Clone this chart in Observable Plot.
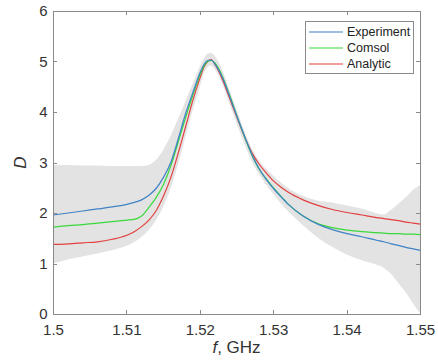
<!DOCTYPE html>
<html>
<head>
<meta charset="utf-8">
<script src="https://cdn.jsdelivr.net/npm/d3@7"></script>
<script src="https://cdn.jsdelivr.net/npm/@observablehq/plot@0.6"></script>
<style>
  html, body { margin: 0; padding: 0; background: #fff; }
</style>
</head>
<body>
<div id="chart"></div>
<script>
// Frequency grid (GHz)
const freq = [1.500,1.502,1.504,1.506,1.508,1.510,1.511,1.512,1.513,1.514,1.515,1.516,1.517,1.518,1.519,1.520,1.5205,1.521,1.5215,1.522,1.523,1.524,1.525,1.526,1.527,1.528,1.529,1.530,1.531,1.532,1.534,1.536,1.538,1.540,1.542,1.544,1.545,1.546,1.547,1.548,1.549,1.550];
// Experiment (blue)
const experiment = [1.97,2.01,2.05,2.09,2.13,2.18,2.22,2.27,2.36,2.50,2.72,3.02,3.48,3.98,4.40,4.80,4.95,5.03,5.04,4.96,4.70,4.32,3.92,3.54,3.18,2.89,2.67,2.49,2.33,2.18,1.95,1.79,1.68,1.60,1.54,1.47,1.44,1.40,1.37,1.33,1.30,1.27];
// Comsol (green)
const comsol = [1.73,1.76,1.78,1.81,1.84,1.87,1.885,1.95,2.12,2.32,2.58,2.95,3.42,3.90,4.35,4.76,4.92,5.01,5.03,4.98,4.72,4.34,3.93,3.53,3.17,2.88,2.68,2.50,2.34,2.18,1.95,1.80,1.72,1.67,1.64,1.62,1.61,1.60,1.60,1.59,1.59,1.58];
// Analytic (red)
const analytic = [1.39,1.40,1.42,1.44,1.49,1.57,1.64,1.74,1.87,2.06,2.35,2.72,3.20,3.72,4.25,4.70,4.90,5.01,5.05,4.95,4.66,4.28,3.90,3.53,3.21,2.98,2.80,2.64,2.52,2.42,2.27,2.16,2.08,2.02,1.97,1.92,1.90,1.88,1.86,1.83,1.81,1.79];
// Uncertainty band (gray)
const bandHigh = [2.95,2.95,2.94,2.94,2.93,2.93,2.93,2.93,2.95,3.05,3.25,3.52,3.85,4.20,4.55,4.90,5.05,5.15,5.17,5.12,4.85,4.45,4.05,3.65,3.30,3.05,2.88,2.74,2.61,2.50,2.34,2.25,2.21,2.15,2.09,2.00,1.97,2.06,2.18,2.30,2.45,2.55];
const bandLow = [1.00,1.08,1.14,1.20,1.26,1.35,1.42,1.52,1.66,1.85,2.12,2.48,2.95,3.48,4.02,4.50,4.75,4.88,4.92,4.85,4.58,4.18,3.78,3.40,3.05,2.78,2.57,2.38,2.20,2.04,1.76,1.52,1.33,1.18,1.07,0.98,0.92,0.80,0.62,0.44,0.22,0.02];

const xTicks = [1.5,1.51,1.52,1.53,1.54,1.55];
const yTicks = [0,1,2,3,4,5,6];
const seriesNames = ["Experiment","Comsol","Analytic"];
const seriesColors = ["#3f82c6","#3ad83a","#e2403f"];

const rows = freq.map((f,i) => ({f, exp: experiment[i], com: comsol[i], ana: analytic[i], hi: bandHigh[i], lo: bandLow[i]}));

const axisColor = "#8a8a8a";
const textColor = "#333";

const plot = Plot.plot({
  width: 438,
  height: 364,
  marginLeft: 53,
  marginRight: 18,
  marginTop: 11,
  marginBottom: 50,
  style: {fontFamily: "'Liberation Sans', Arial, sans-serif", fontSize: "15px", color: textColor, background: "#fff", overflow: "visible"},
  x: {domain: [1.5, 1.55], ticks: xTicks, tickFormat: d => String(d)},
  y: {domain: [0, 6], ticks: yTicks, tickFormat: d => String(d)},
  marks: [
    Plot.areaY(rows, {x: "f", y1: "lo", y2: "hi", fill: "#e3e3e3", curve: "monotone-x"}),
    Plot.line(rows, {x: "f", y: "ana", stroke: seriesColors[2], strokeWidth: 1.2, curve: "monotone-x"}),
    Plot.line(rows, {x: "f", y: "com", stroke: seriesColors[1], strokeWidth: 1.2, curve: "monotone-x"}),
    Plot.line(rows, {x: "f", y: "exp", stroke: seriesColors[0], strokeWidth: 1.2, curve: "monotone-x"}),
    Plot.frame({stroke: axisColor, strokeWidth: 1}),
    Plot.axisX({ticks: xTicks, tickSize: 0, tickPadding: 10, label: null, tickFormat: d => String(d)}),
    Plot.axisY({ticks: yTicks, tickSize: 0, tickPadding: 6, label: null, tickFormat: d => String(d)})
  ]
});

const svg = d3.select(plot);
const xs = plot.scale("x"), ys = plot.scale("y");
const [x0, x1] = xs.range, [y0, y1] = ys.range; // y0 bottom, y1 top
const tl = 4;
const g = svg.append("g").attr("stroke", axisColor).attr("stroke-width", 1);
xTicks.forEach(t => {
  const px = Math.round(xs.apply(t)) + 0.5;
  g.append("line").attr("x1", px).attr("x2", px).attr("y1", y0).attr("y2", y0 - tl);
  g.append("line").attr("x1", px).attr("x2", px).attr("y1", y1).attr("y2", y1 + tl);
});
yTicks.forEach(t => {
  const py = Math.round(ys.apply(t)) + 0.5;
  g.append("line").attr("x1", x0).attr("x2", x0 + tl).attr("y1", py).attr("y2", py);
  g.append("line").attr("x1", x1).attr("x2", x1 - tl).attr("y1", py).attr("y2", py);
});

// Axis labels
const xl = svg.append("text")
  .attr("x", (x0 + x1) / 2).attr("y", 353)
  .attr("text-anchor", "middle")
  .attr("fill", textColor)
  .style("font-size", "17px");
xl.append("tspan").attr("font-style", "italic").text("f");
xl.append("tspan").text(", GHz");

svg.append("text")
  .attr("transform", `translate(26,${(y0 + y1) / 2}) rotate(-90)`)
  .attr("text-anchor", "middle")
  .attr("fill", textColor)
  .attr("font-style", "italic")
  .style("font-size", "17px")
  .text("D");

// Legend
const lg = svg.append("g").attr("transform", "translate(305,21)");
lg.append("rect").attr("x", 0.5).attr("y", 0.5).attr("width", 108).attr("height", 52)
  .attr("fill", "#fff").attr("stroke", axisColor).attr("stroke-width", 1);
seriesNames.forEach((name, i) => {
  const cy = 11 + i * 16;
  lg.append("line").attr("x1", 4).attr("x2", 38).attr("y1", cy).attr("y2", cy)
    .attr("stroke", seriesColors[i]).attr("stroke-width", 1.2);
  lg.append("text").attr("x", 42).attr("y", cy).attr("dy", "0.35em")
    .attr("text-anchor", "start")
    .attr("fill", "#222").style("font-size", "12.5px").text(name);
});

document.getElementById("chart").appendChild(plot);
</script>
</body>
</html>
